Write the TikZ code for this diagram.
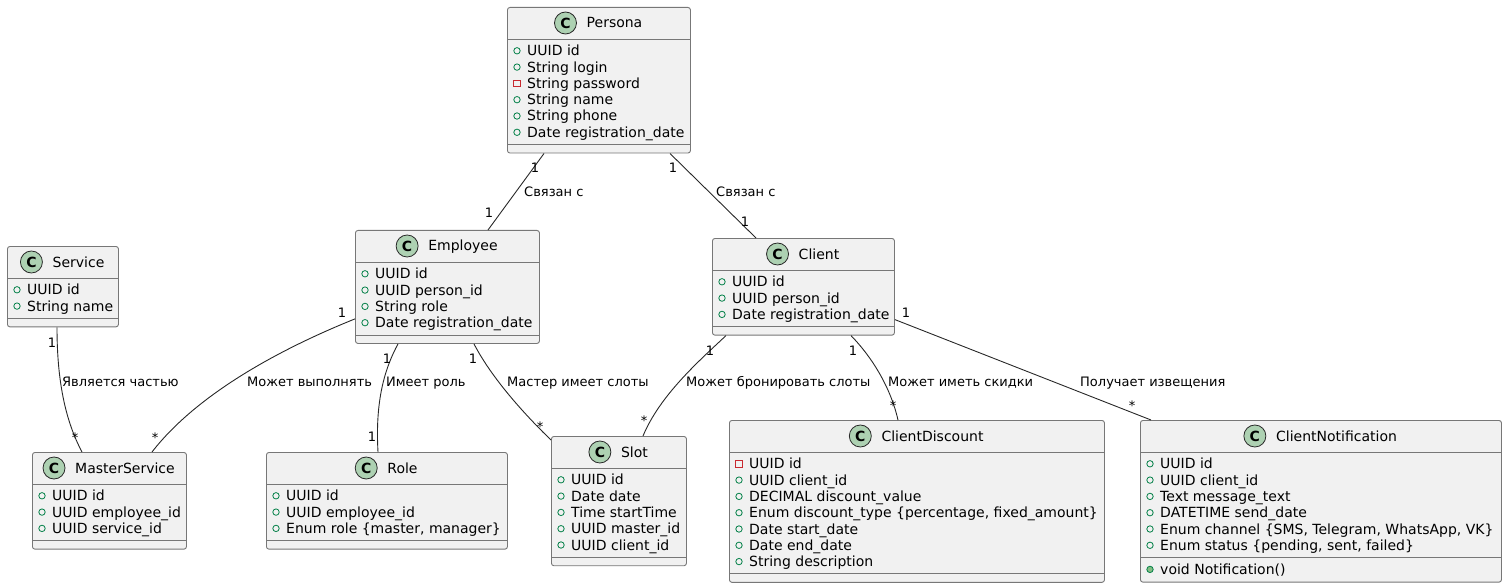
\documentclass[tikz,border=0pt]{standalone}
\usepackage{fontspec}
\setmainfont{DejaVu Sans}
\usetikzlibrary{calc}
\definecolor{boxfill}{HTML}{F1F1F1}
\definecolor{boxline}{HTML}{777777}
\definecolor{cgreen}{HTML}{ADD1B2}
\definecolor{pubgreen}{HTML}{038048}
\definecolor{methfill}{HTML}{84BE84}
\definecolor{privred}{HTML}{C82930}
\definecolor{linkcol}{HTML}{282828}
\tikzset{
  classbox/.style={draw=boxline, fill=boxfill, rounded corners=2.5pt, line width=0.9pt, inner sep=0pt, anchor=north west},
  sepline/.style={draw=boxline, line width=0.9pt},
  cicon/.style={circle, draw=linkcol, fill=cgreen, line width=0.8pt, minimum size=22pt, inner sep=0pt, font=\bfseries\fontsize{14}{14}\selectfont},
  ctitle/.style={anchor=base, inner sep=0pt, font=\fontsize{14}{16}\selectfont},
  attr/.style={anchor=base west, inner sep=0pt, font=\fontsize{14}{16}\selectfont},
  pubicon/.style={circle, draw=pubgreen, line width=0.8pt, minimum size=6.4pt, inner sep=0pt},
  methicon/.style={circle, draw=pubgreen, fill=methfill, line width=0.8pt, minimum size=6.4pt, inner sep=0pt},
  privicon/.style={rectangle, draw=privred, line width=0.8pt, minimum size=6.4pt, inner sep=0pt},
  link/.style={draw=linkcol, line width=0.9pt},
  lbl/.style={anchor=base west, inner sep=0pt, font=\fontsize{13}{15}\selectfont},
  mult/.style={anchor=base, inner sep=0pt, font=\fontsize{13}{15}\selectfont},
}
\newcommand\pubrow[3]{\node[pubicon] at (#1+10,#2) {}; \node[attr] at (#1+20,#2+5) {#3};}
\newcommand\privrow[3]{\node[privicon] at (#1+10,#2) {}; \node[attr] at (#1+20,#2+5) {#3};}
\newcommand\methrow[3]{\node[methicon] at (#1+10,#2) {}; \node[attr] at (#1+20,#2+5) {#3};}
\newcommand\classhead[4]{%
  \node[ctitle] (#1) at (#2,#3+5) {#4};
  \node[cicon] (#1c) at ([shift={(-21pt,5pt)}]#1.base west) {C};}
\begin{document}
\begin{tikzpicture}[x=1pt,y=-1pt]
\useasboundingbox (0,0) rectangle (1507,588);

% ---------- Persona ----------
\node[classbox, minimum width=183pt, minimum height=145.6pt] (persona) at (507,7) {};
\classhead{tpersona}{614.5}{23}{Persona}
\draw[sepline] (persona.west |- 0,39) -- (persona.east |- 0,39);
\pubrow{507}{50.8}{UUID id}
\pubrow{507}{67.1}{String login}
\privrow{507}{83.4}{String password}
\pubrow{507}{99.7}{String name}
\pubrow{507}{116.0}{String phone}
\pubrow{507}{132.3}{Date registration\_date}
\draw[sepline] (persona.west |- 0,144.6) -- (persona.east |- 0,144.6);

% ---------- Employee ----------
\node[classbox, minimum width=184pt, minimum height=113pt] (employee) at (355,230) {};
\classhead{temployee}{463}{246}{Employee}
\draw[sepline] (employee.west |- 0,262) -- (employee.east |- 0,262);
\pubrow{355}{273.8}{UUID id}
\pubrow{355}{290.1}{UUID person\_id}
\pubrow{355}{306.4}{String role}
\pubrow{355}{322.7}{Date registration\_date}
\draw[sepline] (employee.west |- 0,335) -- (employee.east |- 0,335);

% ---------- Client ----------
\node[classbox, minimum width=182pt, minimum height=96.7pt] (client) at (712,238) {};
\classhead{tclient}{819}{254}{Client}
\draw[sepline] (client.west |- 0,270) -- (client.east |- 0,270);
\pubrow{712}{281.8}{UUID id}
\pubrow{712}{298.1}{UUID person\_id}
\pubrow{712}{314.4}{Date registration\_date}
\draw[sepline] (client.west |- 0,326.7) -- (client.east |- 0,326.7);

% ---------- Service ----------
\node[classbox, minimum width=111pt, minimum height=80.4pt] (service) at (7,246) {};
\classhead{tservice}{78.5}{262}{Service}
\draw[sepline] (service.west |- 0,278) -- (service.east |- 0,278);
\pubrow{7}{289.8}{UUID id}
\pubrow{7}{306.1}{String name}
\draw[sepline] (service.west |- 0,318.4) -- (service.east |- 0,318.4);

% ---------- MasterService ----------
\node[classbox, minimum width=154pt, minimum height=96.7pt] (masterservice) at (32,452) {};
\classhead{tmasterservice}{125}{468}{MasterService}
\draw[sepline] (masterservice.west |- 0,484) -- (masterservice.east |- 0,484);
\pubrow{32}{495.8}{UUID id}
\pubrow{32}{512.1}{UUID employee\_id}
\pubrow{32}{528.4}{UUID service\_id}
\draw[sepline] (masterservice.west |- 0,540.7) -- (masterservice.east |- 0,540.7);

% ---------- Role ----------
\node[classbox, minimum width=241pt, minimum height=96.7pt] (role) at (266,452) {};
\classhead{trole}{402.5}{468}{Role}
\draw[sepline] (role.west |- 0,484) -- (role.east |- 0,484);
\pubrow{266}{495.8}{UUID id}
\pubrow{266}{512.1}{UUID employee\_id}
\pubrow{266}{528.4}{Enum role \{master, manager\}}
\draw[sepline] (role.west |- 0,540.7) -- (role.east |- 0,540.7);

% ---------- Slot ----------
\node[classbox, minimum width=135pt, minimum height=129.3pt] (slot) at (551,436) {};
\classhead{tslot}{634.5}{452}{Slot}
\draw[sepline] (slot.west |- 0,468) -- (slot.east |- 0,468);
\pubrow{551}{479.8}{UUID id}
\pubrow{551}{496.1}{Date date}
\pubrow{551}{512.4}{Time startTime}
\pubrow{551}{528.7}{UUID master\_id}
\pubrow{551}{545.0}{UUID client\_id}
\draw[sepline] (slot.west |- 0,557.3) -- (slot.east |- 0,557.3);

% ---------- ClientDiscount ----------
\node[classbox, minimum width=375pt, minimum height=161.9pt] (clientdiscount) at (729,420) {};
\classhead{tclientdiscount}{932.5}{436}{ClientDiscount}
\draw[sepline] (clientdiscount.west |- 0,452) -- (clientdiscount.east |- 0,452);
\privrow{729}{463.8}{UUID id}
\pubrow{729}{480.1}{UUID client\_id}
\pubrow{729}{496.4}{DECIMAL discount\_value}
\pubrow{729}{512.7}{Enum discount\_type \{percentage, fixed\_amount\}}
\pubrow{729}{529.0}{Date start\_date}
\pubrow{729}{545.3}{Date end\_date}
\pubrow{729}{561.6}{String description}
\draw[sepline] (clientdiscount.west |- 0,573.9) -- (clientdiscount.east |- 0,573.9);

% ---------- ClientNotification ----------
\node[classbox, minimum width=361pt, minimum height=161.7pt] (clientnotification) at (1140,420) {};
\classhead{tclientnotification}{1336.5}{436}{ClientNotification}
\draw[sepline] (clientnotification.west |- 0,452) -- (clientnotification.east |- 0,452);
\pubrow{1140}{463.8}{UUID id}
\pubrow{1140}{480.1}{UUID client\_id}
\pubrow{1140}{496.4}{Text message\_text}
\pubrow{1140}{512.7}{DATETIME send\_date}
\pubrow{1140}{529.0}{Enum channel \{SMS, Telegram, WhatsApp, VK\}}
\pubrow{1140}{545.3}{Enum status \{pending, sent, failed\}}
\draw[sepline] (clientnotification.west |- 0,557.6) -- (clientnotification.east |- 0,557.6);
\methrow{1140}{569.4}{void Notification()}

% ---------- Connectors ----------
\draw[link] ([xshift=37pt]persona.south west) -- ([xshift=133pt]employee.north west);
\draw[link] ([xshift=163pt]persona.south west) -- ([xshift=44pt]client.north west);
\draw[link] ([xshift=50pt]service.south west) .. controls (57,380) and (65,420) .. ([xshift=50pt]masterservice.north west);
\draw[link] ([yshift=25pt]employee.south west) .. controls (290,345) and (200,390) .. ([xshift=120pt]masterservice.north west);
\draw[link] ([xshift=43pt]employee.south west) .. controls (385,368) and (375,400) .. ([xshift=112pt]role.north west);
\draw[link] ([xshift=119pt]employee.south west) .. controls (490,375) and (520,410) .. ([yshift=-4pt]slot.north west);
\draw[link] ([xshift=14pt]client.south west) .. controls (700,360) and (660,395) .. ([xshift=92pt]slot.north west);
\draw[link] ([xshift=139pt]client.south west) .. controls (870,355) and (890,385) .. ([xshift=169pt]clientdiscount.north west);
\draw[link] ([yshift=16pt]client.south east) -- ([xshift=11pt]clientnotification.north west);

% ---------- Labels ----------
\node[lbl] (l1) at (524,196.5) {Связан с};
\node[lbl] (l2) at (716,196.5) {Связан с};
\node[lbl] (l3) at (62,386.5) {Является частью};
\node[lbl] (l4) at (247,386.5) {Может выполнять};
\node[lbl] (l5) at (386,386.5) {Имеет роль};
\node[lbl] (l6) at (507,386.5) {Мастер имеет слоты};
\node[lbl] (l7) at (686,386.5) {Может бронировать слоты};
\node[lbl] (l8) at (888,386.5) {Может иметь скидки};
\node[lbl] (l9) at (1080,386.5) {Получает извещения};

% ---------- Multiplicities ----------
\node[mult] (m1) at (535,172.7) {1};
\node[mult] (m2) at (489,217.7) {1};
\node[mult] (m3) at (673,172.7) {1};
\node[mult] (m4) at (745,226.7) {1};
\node[mult] (m5) at (52,347.7) {1};
\node[mult] (m6) at (75,442.3) {*};
\node[mult] (m7) at (342,317.7) {1};
\node[mult] (m8) at (155,442.3) {*};
\node[mult] (m9) at (387,363.7) {1};
\node[mult] (m10) at (372,441.7) {1};
\node[mult] (m11) at (473,363.7) {1};
\node[mult] (m12) at (540,431.3) {*};
\node[mult] (m13) at (710,355.7) {1};
\node[mult] (m14) at (644,425.3) {*};
\node[mult] (m15) at (853,355.7) {1};
\node[mult] (m16) at (893,410.3) {*};
\node[mult] (m17) at (906,317.7) {1};
\node[mult] (m18) at (1132,410.3) {*};
\end{tikzpicture}
\end{document}
